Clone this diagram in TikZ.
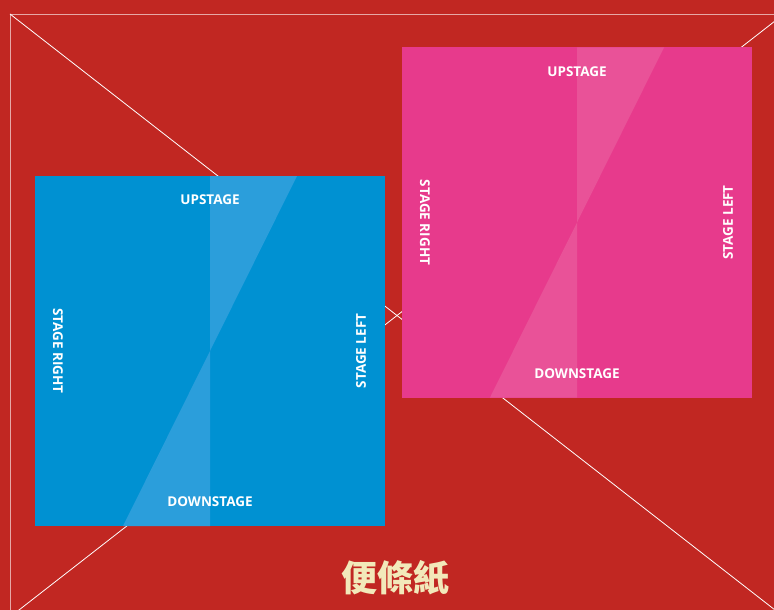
\documentclass[tikz,border=0pt]{standalone}
\usepackage{fontspec}
\setmainfont{Open Sans}
\newfontfamily\cjk{Noto Sans CJK TC}
\usepackage{xcolor}
\usetikzlibrary{calc}

\definecolor{fond}{RGB}{193,39,34}
\definecolor{bleu}{RGB}{0,145,210}
\definecolor{bleuclair}{RGB}{43,158,219}
\definecolor{rose}{RGB}{231,58,140}
\definecolor{roseclair}{RGB}{233,82,152}
\definecolor{creme}{RGB}{242,233,186}

\begin{document}
\begin{tikzpicture}[x=1pt,y=-1pt]

\tikzset{
    carre/.style = {
    minimum size=350pt,
    inner sep=0pt,
    outer sep=0pt
    }
}

\tikzstyle{scene}=[text=white, inner sep=0pt, font=\fontsize{13.5}{15}\selectfont\bfseries]
\tikzstyle{trait}=[white, line width=0.8pt]

\fill[fond] (0,0) rectangle (774,610);
\useasboundingbox (0,0) rectangle (774,610);

\coordinate (c-nw) at (10,14);
\coordinate (c-ne) at (784,14);
\coordinate (c-sw) at (10,617);
\coordinate (c-se) at (784,617);

\draw[trait, opacity=0.6] (c-nw) rectangle (c-se);
\draw[trait] (c-nw)--(c-se);
\draw[trait] (c-sw)--(c-ne);

\node (bleu-sc) [carre, fill=bleu] at (210,351) {};
\node (rose-sc) [carre, fill=rose] at (577,222.5) {};

\foreach \sc/\cl in {bleu-sc/bleuclair, rose-sc/roseclair}{
    \fill[\cl] (\sc.north) -- ($(\sc.north)+(87,0)$) -- (\sc.center) -- cycle;
    \fill[\cl] (\sc.south) -- ($(\sc.south)+(-87,0)$) -- (\sc.center) -- cycle;
    \node (\sc-up) [scene] at ($(\sc.north)+(0,24)$) {UPSTAGE};
    \node (\sc-down) [scene] at ($(\sc.south)+(0,-24)$) {DOWNSTAGE};
    \node (\sc-right) [scene, rotate=-90] at ($(\sc.west)+(23,0)$) {STAGE RIGHT};
    \node (\sc-left) [scene, rotate=90] at ($(\sc.east)+(-24,0)$) {STAGE LEFT};
}

% \node (sous-titre) at (395,600) {};

\node (titre) [text=creme, font=\cjk\bfseries\fontsize{36}{40}\selectfont] at (395,578) {便條紙};

\end{tikzpicture}
\end{document}
